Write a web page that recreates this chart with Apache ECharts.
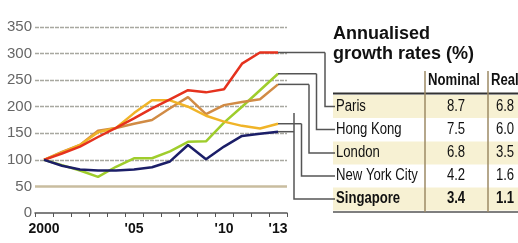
<!DOCTYPE html>
<html>
<head>
<meta charset="utf-8">
<script src="https://cdn.jsdelivr.net/npm/echarts@6/dist/echarts.min.js"></script>
<style>
  html, body { margin: 0; padding: 0; background: #fff; }
  #chart { width: 518px; height: 243px; }
</style>
</head>
<body>
<div id="chart"></div>
<script>
// ------------------------------
// Data
// ------------------------------
var years = ['2000', '2001', '2002', '2003', '2004', '2005', '2006', '2007', '2008', '2009', '2010', '2011', '2012', '2013'];
var yearLabels = ['2000', '', '', '', '', "'05", '', '', '', '', "'10", '', '', "'13"];

var paris     = [100, 112, 125, 143, 160, 178, 197, 214, 231, 227, 233, 281, 302, 302];
var hongKong  = [100, 90, 80, 68, 87, 103, 103, 116, 134, 135, 170, 200, 231, 262];
var london    = [100, 115, 128, 155, 160, 168, 175, 197, 218, 186, 203, 209, 214, 242];
var newYork   = [100, 114, 128, 152, 160, 188, 212, 212, 200, 183, 172, 164, 159, 168];
var singapore = [100, 89, 82, 80, 80, 82, 86, 97, 128, 101, 125, 145, 149, 153];

var cities  = ['Paris', 'Hong Kong', 'London', 'New York City', 'Singapore'];
var nominal = ['8.7', '7.5', '6.8', '4.2', '3.4'];
var real    = ['6.8', '6.0', '3.5', '1.6', '1.1'];

var sans = '"Liberation Sans", Arial, sans-serif';
var squeeze = 0.82;   // newspaper face is condensed

var myChart = echarts.init(document.getElementById('chart'), null, { renderer: 'canvas' });

var option = {
    animation: false,
    backgroundColor: '#fff',
    grid: { left: 35, right: 231, top: 27, bottom: 30 },
    xAxis: {
        type: 'category',
        data: years,
        boundaryGap: true,
        axisLine: { lineStyle: { color: '#555', width: 1.5 } },
        axisTick: { show: true, interval: 0, length: 4, lineStyle: { color: '#555', width: 1 } },
        axisLabel: {
            interval: 0,
            margin: 9,
            color: '#111',
            fontFamily: sans,
            fontWeight: 'bold',
            fontSize: 14,
            formatter: function (v, i) { return yearLabels[i]; }
        },
        splitLine: { show: false }
    },
    yAxis: {
        type: 'value',
        min: 0,
        max: 350,
        interval: 50,
        axisLine: { show: false },
        axisTick: { show: false },
        axisLabel: { color: '#666', fontFamily: sans, fontSize: 15, margin: 3 },
        splitLine: {
            show: true,
            lineStyle: {
                color: ['transparent', 'transparent', '#a8a8a0', '#a8a8a0', '#a8a8a0', '#a8a8a0', '#a8a8a0', '#a8a8a0'],
                width: 1.3,
                type: [4, 1]
            }
        }
    },
    series: [
        { name: 'Hong Kong', type: 'line', data: hongKong, color: '#9fcd2c' },
        { name: 'London', type: 'line', data: london, color: '#d18b45' },
        { name: 'New York City', type: 'line', data: newYork, color: '#f0b428' },
        {
            name: 'Paris', type: 'line', data: paris, color: '#e5321e',
            markLine: {
                silent: true, symbol: 'none', label: { show: false },
                lineStyle: { color: '#c9bd9f', width: 2.5, type: 'solid' },
                data: [{ yAxis: 50 }]
            }
        },
        { name: 'Singapore', type: 'line', data: singapore, color: '#1b1e68' }
    ].map(function (s) {
        s.symbol = 'none';
        s.lineStyle = { width: 2.5 };
        return s;
    })
};
myChart.setOption(option);

// ------------------------------
// Connectors and growth-rate table
// ------------------------------
var seriesData = [paris, hongKong, london, newYork, singapore];
var elbowX = [325, 316.5, 309, 301.5, 294];
var rowY = [106.5, 129.5, 153, 176, 199];
var tableLeft = 333, colSep1 = 425, colSep2 = 488;
var graphics = [];

function cell(text, x, y, align, weight, size) {
    return {
        type: 'text', z: 10, x: x, y: y, scaleX: squeeze,
        style: {
            text: text, fill: '#111',
            font: weight + ' ' + size + 'px ' + sans,
            align: align, verticalAlign: 'middle'
        }
    };
}

// row shading
rowY.forEach(function (y, i) {
    if (i % 2 === 0) {
        graphics.push({
            type: 'rect', z: 0,
            shape: { x: tableLeft, y: y - 11.5, width: 518 - tableLeft, height: 23 },
            style: { fill: '#f7f1d3' }
        });
    }
});

// connectors from each line's end to its row
seriesData.forEach(function (d, i) {
    var last = d.length - 1;
    var p = myChart.convertToPixel({ gridIndex: 0 }, [last, d[last]]);
    var top = i === 4 ? Math.min(p[1], 113) : p[1];
    graphics.push({
        type: 'polyline', z: 5,
        shape: { points: [[p[0], p[1]], [elbowX[i], p[1]]] },
        style: { stroke: '#555', lineWidth: 1.5, fill: null }
    });
    graphics.push({
        type: 'polyline', z: 5,
        shape: { points: [[elbowX[i], top], [elbowX[i], rowY[i]], [tableLeft + 2, rowY[i]]] },
        style: { stroke: '#555', lineWidth: 1.5, fill: null }
    });
});

// title
graphics.push({
    type: 'text', z: 10, left: tableLeft, top: 25,
    style: { text: 'Annualised', fill: '#111', font: 'bold 18px ' + sans }
});
graphics.push({
    type: 'text', z: 10, left: tableLeft, top: 45,
    style: { text: 'growth rates (%)', fill: '#111', font: 'bold 18px ' + sans }
});

// header
graphics.push(cell('Nominal', 454, 81, 'center', 'bold', 16));
graphics.push(cell('Real', 491, 81, 'left', 'bold', 16));

// rows
cities.forEach(function (c, i) {
    var w = i === 4 ? 'bold' : 'normal';
    graphics.push(cell(c, tableLeft + 3, rowY[i], 'left', w, 16));
    graphics.push(cell(nominal[i], 456, rowY[i], 'center', w, 16));
    graphics.push(cell(real[i], 505, rowY[i], 'center', w, 16));
});

// rules
graphics.push({
    type: 'line', z: 8,
    shape: { x1: tableLeft, y1: 93.5, x2: 518, y2: 93.5 },
    style: { stroke: '#333', lineWidth: 2 }
});
graphics.push({
    type: 'line', z: 8,
    shape: { x1: tableLeft, y1: 212, x2: 518, y2: 212 },
    style: { stroke: '#555', lineWidth: 1.5 }
});
[colSep1, colSep2].forEach(function (x) {
    graphics.push({
        type: 'line', z: 8,
        shape: { x1: x, y1: 71, x2: x, y2: 212 },
        style: { stroke: '#9c8a64', lineWidth: 1.5 }
    });
});

myChart.setOption({ graphic: graphics });

window.addEventListener('resize', function () {
    myChart.resize();
});
</script>
</body>
</html>
